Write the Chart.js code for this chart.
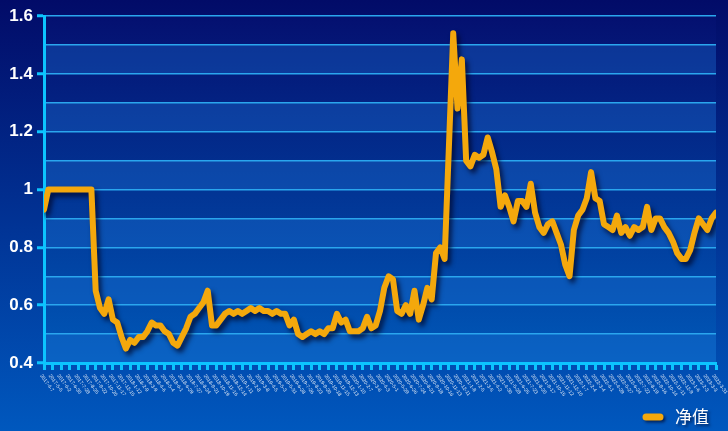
<!DOCTYPE html>
<html>
<head>
<meta charset="utf-8">
<script src="https://cdn.jsdelivr.net/npm/chart.js@4.4.0/dist/chart.umd.min.js"></script>
<style>
  html, body { margin: 0; padding: 0; background: #003090; }
  canvas { display: block; }
</style>
</head>
<body>
<canvas id="grafico" width="728" height="431"></canvas>
<script>
// datas dos ticks do eixo x (a cada 4 semanas)
const tickLabels = [
  '2017-4-7','2017-5-5','2017-6-2','2017-6-30','2017-7-28','2017-8-25','2017-9-22','2017-10-20','2017-11-17','2017-12-15',
  '2018-1-12','2018-2-9','2018-3-9','2018-4-6','2018-5-4','2018-6-1','2018-6-29','2018-7-27','2018-8-24','2018-9-21','2018-10-19','2018-11-16','2018-12-14',
  '2019-1-11','2019-2-8','2019-3-8','2019-4-5','2019-5-3','2019-5-31','2019-6-28','2019-7-26','2019-8-23','2019-9-20','2019-10-18','2019-11-15','2019-12-13',
  '2020-1-10','2020-2-7','2020-3-6','2020-4-3','2020-5-1','2020-5-29','2020-6-26','2020-7-24','2020-8-21','2020-9-18','2020-10-16','2020-11-13','2020-12-11',
  '2021-1-8','2021-2-5','2021-3-5','2021-4-2','2021-4-30','2021-5-28','2021-6-25','2021-7-23','2021-8-20','2021-9-17','2021-10-15','2021-11-12','2021-12-10',
  '2022-1-7','2022-2-4','2022-3-4','2022-4-1','2022-4-29','2022-5-27','2022-6-24','2022-7-22','2022-8-19','2022-9-16','2022-10-14','2022-11-11','2022-12-9',
  '2023-1-6','2023-2-3','2023-3-3','2023-3-31'
];

// dois pontos por intervalo de tick
const pontosPorTick = 2;

const seriesName = '净值';
const netValues = [
  0.93, 1.00, 1.00, 1.00, 1.00, 1.00, 1.00, 1.00, 1.00, 1.00,
  1.00, 1.00, 0.65, 0.59, 0.57, 0.62, 0.55, 0.54, 0.49, 0.45,
  0.48, 0.47, 0.49, 0.49, 0.51, 0.54, 0.53, 0.53, 0.51, 0.50,
  0.47, 0.46, 0.49, 0.52, 0.56, 0.57, 0.59, 0.61, 0.65, 0.53,
  0.53, 0.55, 0.57, 0.58, 0.57, 0.58, 0.57, 0.58, 0.59, 0.58,
  0.59, 0.58, 0.58, 0.57, 0.58, 0.57, 0.57, 0.53, 0.55, 0.50,
  0.49, 0.50, 0.51, 0.50, 0.51, 0.50, 0.52, 0.52, 0.57, 0.54,
  0.55, 0.51, 0.51, 0.51, 0.52, 0.56, 0.52, 0.53, 0.58, 0.66,
  0.70, 0.69, 0.58, 0.57, 0.60, 0.57, 0.65, 0.55, 0.60, 0.66,
  0.62, 0.78, 0.80, 0.76, 1.15, 1.54, 1.28, 1.45, 1.10, 1.08,
  1.12, 1.11, 1.12, 1.18, 1.13, 1.07, 0.94, 0.98, 0.94, 0.89,
  0.96, 0.96, 0.94, 1.02, 0.92, 0.87, 0.85, 0.88, 0.89, 0.85,
  0.81, 0.74, 0.70, 0.86, 0.91, 0.93, 0.97, 1.06, 0.97, 0.96,
  0.88, 0.87, 0.86, 0.91, 0.85, 0.87, 0.84, 0.87, 0.86, 0.87,
  0.94, 0.86, 0.90, 0.90, 0.87, 0.85, 0.82, 0.78, 0.76, 0.76,
  0.79, 0.85, 0.90, 0.88, 0.86, 0.90, 0.92
];

const corLinha = '#f4a80c';
const corEixo = '#0cc4ff';

// fundo em degradê + faixas alternadas na área do gráfico
const fundoPlugin = {
  id: 'fundo',
  beforeDraw(chart) {
    const { ctx, chartArea, scales } = chart;
    ctx.save();
    const g = ctx.createLinearGradient(0, 0, 0, chart.height);
    g.addColorStop(0, '#020b68');
    g.addColorStop(1, '#0058be');
    ctx.fillStyle = g;
    ctx.fillRect(0, 0, chart.width, chart.height);

    const ga = ctx.createLinearGradient(0, chartArea.top, 0, chartArea.bottom);
    ga.addColorStop(0, '#041070');
    ga.addColorStop(1, '#0058b8');
    ctx.fillStyle = ga;
    ctx.fillRect(chartArea.left, chartArea.top, chartArea.right - chartArea.left, chartArea.bottom - chartArea.top);

    const y = scales.y;
    for (let k = 0; k < 12; k++) {
      if (k % 2 === 1) {
        const v1 = 1.6 - k * 0.1;
        const v2 = v1 - 0.1;
        const p1 = y.getPixelForValue(v1);
        const p2 = y.getPixelForValue(v2);
        ctx.fillStyle = 'rgba(30, 120, 220, 0.32)';
        ctx.fillRect(chartArea.left, p1, chartArea.right - chartArea.left, p2 - p1);
      }
    }
    ctx.restore();
  }
};

// sombra da linha
const sombraPlugin = {
  id: 'sombra',
  beforeDatasetDraw(chart) {
    const ctx = chart.ctx;
    ctx.save();
    ctx.shadowColor = 'rgba(0, 0, 30, 0.7)';
    ctx.shadowBlur = 5;
    ctx.shadowOffsetX = 3;
    ctx.shadowOffsetY = 4;
  },
  afterDatasetDraw(chart) {
    chart.ctx.restore();
  }
};

// rótulos do eixo x inclinados e legenda
const textosPlugin = {
  id: 'textos',
  afterDraw(chart) {
    const { ctx, scales } = chart;
    const x = scales.x;
    ctx.save();
    ctx.fillStyle = 'rgba(255,255,255,0.85)';
    ctx.font = '5px "Liberation Sans", Arial, sans-serif';
    ctx.textAlign = 'left';
    ctx.textBaseline = 'middle';
    tickLabels.forEach((lab, i) => {
      const px = x.getPixelForValue(i);
      ctx.save();
      ctx.translate(px - 3, 375);
      ctx.rotate(Math.PI * 0.3);
      ctx.fillText(lab, 0, 0);
      ctx.restore();
    });
    ctx.restore();

    // legenda
    ctx.save();
    ctx.shadowColor = 'rgba(0, 0, 30, 0.6)';
    ctx.shadowBlur = 3;
    ctx.shadowOffsetX = 2;
    ctx.shadowOffsetY = 2;
    ctx.strokeStyle = corLinha;
    ctx.lineWidth = 7;
    ctx.lineCap = 'round';
    ctx.beginPath();
    ctx.moveTo(646, 417);
    ctx.lineTo(660, 417);
    ctx.stroke();
    ctx.fillStyle = '#ffffff';
    ctx.font = '17px "Noto Sans CJK SC", sans-serif';
    ctx.textAlign = 'left';
    ctx.textBaseline = 'middle';
    ctx.fillText(chart.data.datasets[0].label, 675, 417);
    ctx.restore();
  }
};

const pontos = netValues.map((v, i) => ({ x: i / pontosPorTick, y: v }));

new Chart(document.getElementById('grafico'), {
  type: 'line',
  data: {
    datasets: [{
      label: seriesName,
      data: pontos,
      borderColor: corLinha,
      borderWidth: 6,
      pointRadius: 0,
      tension: 0,
      borderJoinStyle: 'round',
      borderCapStyle: 'round'
    }]
  },
  options: {
    responsive: false,
    animation: false,
    layout: { padding: { top: 16, right: 12, left: 0, bottom: 0 } },
    plugins: {
      legend: { display: false },
      tooltip: { enabled: false }
    },
    scales: {
      x: {
        type: 'linear',
        min: 0,
        max: tickLabels.length - 1,
        afterFit(scale) { scale.height = 68; },
        border: { color: corEixo, width: 3 },
        grid: {
          drawOnChartArea: false,
          drawTicks: true,
          tickLength: 7,
          tickWidth: 3,
          tickColor: corEixo
        },
        ticks: {
          display: false,
          stepSize: 1,
          autoSkip: false,
          maxTicksLimit: 200
        }
      },
      y: {
        min: 0.4,
        max: 1.6,
        afterFit(scale) { scale.width = 44; },
        border: { color: corEixo, width: 3 },
        grid: {
          color: '#2aa6ee',
          lineWidth: 1.5,
          tickLength: 7,
          tickWidth: 3,
          tickColor: (c) => (Math.round(c.tick.value * 10) % 2 === 0 ? corEixo : 'rgba(0,0,0,0)')
        },
        ticks: {
          stepSize: 0.1,
          autoSkip: false,
          maxTicksLimit: 20,
          padding: 4,
          color: '#ffffff',
          font: { family: '"Liberation Sans", Arial, sans-serif', size: 17, weight: 'bold' },
          callback: (v) => (Math.round(v * 10) % 2 === 0 ? String(Math.round(v * 10) / 10) : '')
        }
      }
    }
  },
  plugins: [fundoPlugin, sombraPlugin, textosPlugin]
});
</script>
</body>
</html>
